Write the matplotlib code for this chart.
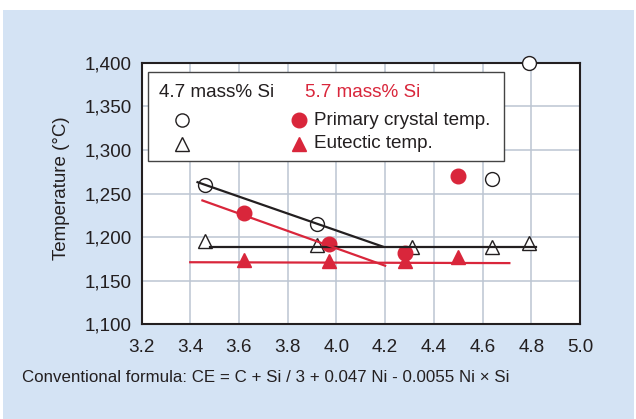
import numpy as np
import matplotlib
matplotlib.use("Agg")
from matplotlib import pyplot as plt
from matplotlib.patches import Rectangle

plt.rcParams['font.family'] = ['Liberation Sans', 'DejaVu Sans']

## data
# 4.7 mass% Si
ce_47_primary = [3.46, 3.92, 4.64, 4.79]
temp_47_primary = [1260, 1215, 1267, 1400]
ce_47_eutectic = [3.46, 3.92, 4.31, 4.64, 4.79]
temp_47_eutectic = [1195, 1191, 1188, 1188, 1193]
# 5.7 mass% Si
ce_57_primary = [3.62, 3.97, 4.28, 4.50]
temp_57_primary = [1228, 1192, 1182, 1270]
ce_57_eutectic = [3.62, 3.97, 4.28, 4.50]
temp_57_eutectic = [1173, 1172, 1172, 1177]

# trend lines (end points)
line_47_primary_x = [3.43, 4.19]
line_47_primary_y = [1263, 1189]
line_57_primary_x = [3.45, 4.20]
line_57_primary_y = [1242, 1167]
line_47_eutectic_x = [3.48, 4.82]
line_47_eutectic_y = [1189, 1189]
line_57_eutectic_x = [3.40, 4.71]
line_57_eutectic_y = [1171, 1170]

x_ticks = [3.2, 3.4, 3.6, 3.8, 4.0, 4.2, 4.4, 4.6, 4.8, 5.0]
y_ticks = [1100, 1150, 1200, 1250, 1300, 1350, 1400]

red = '#d9263b'
dark = '#231f20'
bg = '#d4e3f4'
grid_col = '#bcc5d2'
fs = 13.6

fig = plt.figure(figsize=(6.36, 4.19), dpi=100)
fig.patch.set_facecolor('white')
fig.patches.append(Rectangle((3 / 636, 0), 631 / 636, 409 / 419,
                             transform=fig.transFigure, facecolor=bg,
                             edgecolor='none', zorder=-10))

ax = fig.add_axes([141.5 / 636, 1 - 324 / 419, 438.5 / 636, 261 / 419])
ax.set_facecolor('white')
ax.set_xlim(3.2, 5.0)
ax.set_ylim(1100, 1400)
ax.set_xticks(x_ticks)
ax.set_xticklabels(['%.1f' % v for v in x_ticks])
ax.set_yticks(y_ticks)
ax.set_yticklabels(['{:,}'.format(v) for v in y_ticks])
ax.tick_params(length=0, labelsize=fs, colors=dark)
ax.tick_params(axis='x', pad=11)
ax.tick_params(axis='y', pad=7)
ax.grid(True, color=grid_col, linewidth=1.1)
ax.set_axisbelow(True)
for s in ax.spines.values():
    s.set_linewidth(1.5)
    s.set_color(dark)

# markers
ax.plot(ce_47_primary, temp_47_primary, 'o', ms=10, mfc='white', mec=dark,
        mew=1.0, clip_on=False, zorder=4)
ax.plot(ce_47_eutectic, temp_47_eutectic, '^', ms=10, mfc='white', mec=dark,
        mew=1.0, clip_on=False, zorder=4)
ax.plot(ce_57_primary, temp_57_primary, 'o', ms=10.5, color=red, mec=red,
        clip_on=False, zorder=4)
ax.plot(ce_57_eutectic, temp_57_eutectic, '^', ms=10.5, color=red, mec=red,
        clip_on=False, zorder=4)

# lines
ax.plot(line_47_primary_x, line_47_primary_y, color=dark, lw=1.6, zorder=5)
ax.plot(line_47_eutectic_x, line_47_eutectic_y, color=dark, lw=1.6, zorder=5)
ax.plot(line_57_primary_x, line_57_primary_y, color=red, lw=1.6, zorder=5)
ax.plot(line_57_eutectic_x, line_57_eutectic_y, color=red, lw=1.6, zorder=5)

# hand-made legend box
ax.add_patch(Rectangle((0.0155, 0.6245), 0.8115, 0.342, transform=ax.transAxes,
                       facecolor='white', edgecolor='#444444', lw=1.0, zorder=6))
ax.text(0.040, 0.886, '4.7 mass% Si', transform=ax.transAxes, fontsize=fs,
        color=dark, va='center', ha='left', zorder=7)
ax.text(0.373, 0.886, '5.7 mass% Si', transform=ax.transAxes, fontsize=fs,
        color=red, va='center', ha='left', zorder=7)
ax.plot([0.0917], [0.7816], 'o', ms=9.5, mfc='white', mec=dark, mew=1.0,
        transform=ax.transAxes, zorder=7)
ax.plot([0.0917], [0.6897], '^', ms=9.5, mfc='white', mec=dark, mew=1.0,
        transform=ax.transAxes, zorder=7)
ax.plot([0.359], [0.7816], 'o', ms=10.5, color=red, transform=ax.transAxes, zorder=7)
ax.plot([0.359], [0.6897], '^', ms=10.5, color=red, transform=ax.transAxes, zorder=7)
ax.text(0.3934, 0.7816, 'Primary crystal temp.', transform=ax.transAxes,
        fontsize=fs, color=dark, va='center', ha='left', zorder=7)
ax.text(0.3934, 0.6897, 'Eutectic temp.', transform=ax.transAxes,
        fontsize=fs, color=dark, va='center', ha='left', zorder=7)

ax.set_ylabel('Temperature (\u00b0C)', fontsize=13.5, color=dark)
ax.yaxis.set_label_coords(-0.163, 0.521)
fig.text(22 / 636, 1 - 377 / 419,
         'Conventional formula: CE = C + Si / 3 + 0.047 Ni - 0.0055 Ni \u00d7 Si',
         fontsize=12.2, color=dark, ha='left', va='center')

plt.savefig('out.png', dpi=100, facecolor=fig.get_facecolor())
